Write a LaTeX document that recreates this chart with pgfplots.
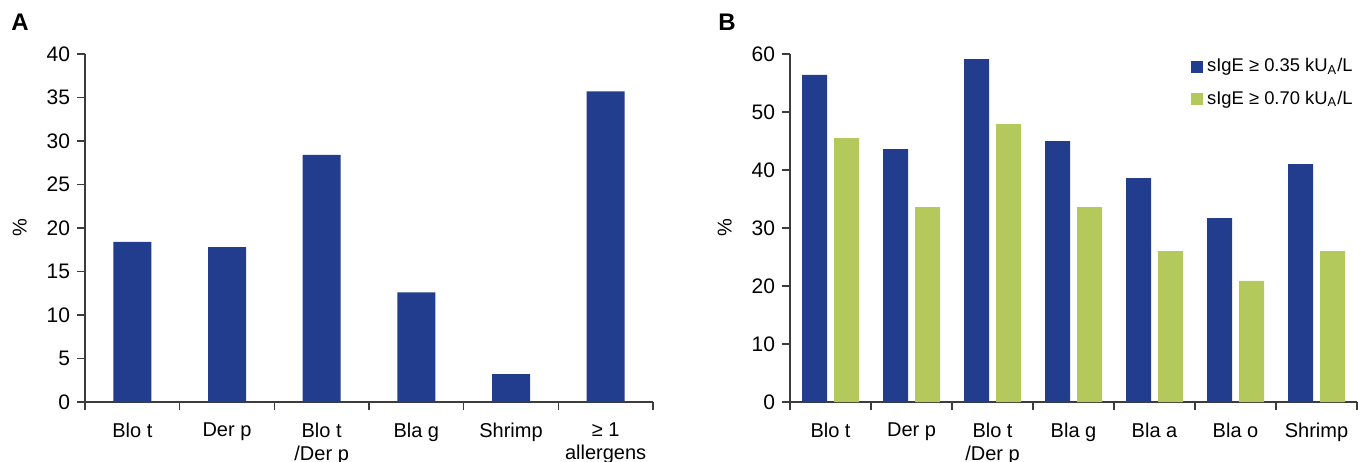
\documentclass[border=0pt]{standalone}
\usepackage{fontspec}
\setmainfont{Liberation Sans}
\usepackage{pgfplots}
\pgfplotsset{compat=1.18}
\definecolor{barblue}{RGB}{34,60,142}
\definecolor{bargreen}{RGB}{180,201,92}
\definecolor{axisgray}{RGB}{60,60,60}

\pgfplotsset{panel/.style={
    scale only axis, height=174pt,
    axis lines=left, axis line style={-, axisgray, line width=0.7pt},
    enlargelimits=false, ymin=0, xmin=0,
    tick align=outside, major tick length=4pt, minor tick length=4pt,
    major x tick style={draw=none},
    minor x tick style={axisgray, line width=0.7pt},
    y tick style={axisgray, line width=0.7pt},
    /pgf/number format/assume math mode=true,
    yticklabel style={font=\fontsize{10.5}{12}\selectfont},
    xticklabel style={align=center, font=\fontsize{10}{11.5}\selectfont, yshift=-3pt},
    ylabel={\%},
    ylabel style={at={(axis description cs:-0.115,0.5)}, anchor=center, font=\fontsize{10}{12}\selectfont},
}}

\begin{document}
\begin{tikzpicture}
\useasboundingbox (0,0) rectangle (684pt,230.5pt);
\node[font=\bfseries\fontsize{12}{14}\selectfont] at (10pt,219.5pt) {A};
\node[font=\bfseries\fontsize{12}{14}\selectfont] at (363.5pt,219.5pt) {B};

\begin{axis}[panel, at={(42.5pt,29.5pt)}, anchor=south west, width=284pt,
    xmax=6, ymax=40, ytick={0,5,...,40},
    xtick={0.5,1.5,2.5,3.5,4.5,5.5}, minor xtick={0,1,...,6},
    xticklabels={Blo t, Der p, {Blo t\\/Der p}, Bla g, Shrimp, {≥ 1\\allergens}}]
\addplot[ybar, bar width=19pt, fill=barblue, draw=none] coordinates {
    (0.5,18.4) (1.5,17.8) (2.5,28.4) (3.5,12.6) (4.5,3.2) (5.5,35.7)};
\end{axis}

\begin{axis}[panel, at={(395pt,29.5pt)}, anchor=south west, width=283.5pt,
    xmax=7, ymax=60, ytick={0,10,...,60},
    ybar=3.5pt, bar width=12.5pt,
    xtick={0.5,1.5,2.5,3.5,4.5,5.5,6.5}, minor xtick={0,1,...,7},
    xticklabels={Blo t, Der p, {Blo t\\/Der p}, Bla g, Bla a, Bla o, Shrimp},
    legend style={at={(axis description cs:1.0,1.0)}, anchor=north east, draw=none, fill=none,
        font=\fontsize{9.2}{11}\selectfont, row sep=4pt, inner sep=0pt},
    legend cell align=left]
\addplot[fill=barblue, draw=none,
    legend image code/.code={\fill[barblue] (0pt,-3pt) rectangle (6pt,3pt);}] coordinates {
    (0.5,56.4) (1.5,43.6) (2.5,59.1) (3.5,45.0) (4.5,38.6) (5.5,31.7) (6.5,41.0)};
\addplot[fill=bargreen, draw=none,
    legend image code/.code={\fill[bargreen] (0pt,-3pt) rectangle (6pt,3pt);}] coordinates {
    (0.5,45.5) (1.5,33.6) (2.5,47.9) (3.5,33.6) (4.5,26.0) (5.5,20.9) (6.5,26.0)};
\legend{sIgE ≥ 0.35 kU\textsubscript{A}/L, sIgE ≥ 0.70 kU\textsubscript{A}/L}
\end{axis}
\end{tikzpicture}
\end{document}
